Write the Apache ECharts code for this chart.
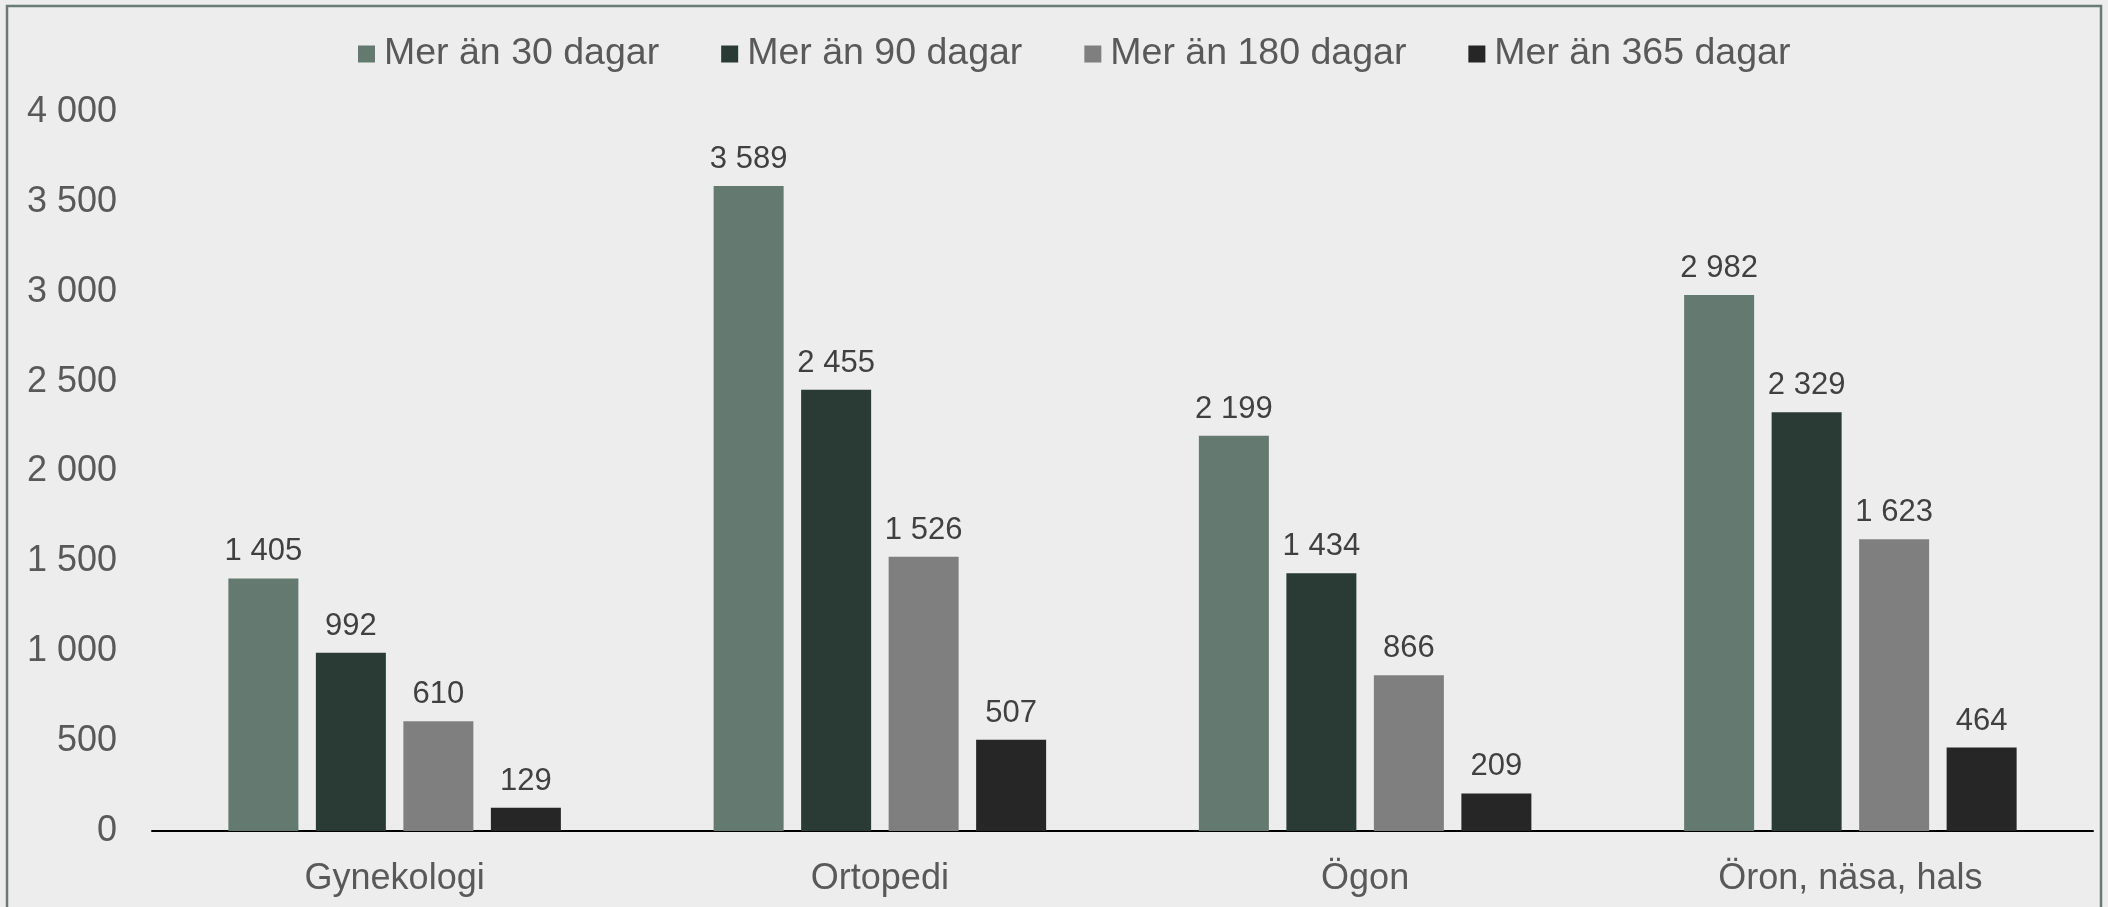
<!DOCTYPE html>
<html>
<head>
<meta charset="utf-8">
<script src="https://cdn.jsdelivr.net/npm/echarts@6/dist/echarts.min.js"></script>
<style>
  html, body { margin: 0; padding: 0; background: #ededed; }
  #main { width: 2108px; height: 907px; }
</style>
</head>
<body>
<div id="main"></div>
<script>
// kategorier och serier
var categories = ['Gynekologi', 'Ortopedi', 'Ögon', 'Öron, näsa, hals'];
var seriesNames = ['Mer än 30 dagar', 'Mer än 90 dagar', 'Mer än 180 dagar', 'Mer än 365 dagar'];
var over30 = [1405, 3589, 2199, 2982];
var over90 = [992, 2455, 1434, 2329];
var over180 = [610, 1526, 866, 1623];
var over365 = [129, 507, 209, 464];
var colors = ['#647a70', '#2a3b35', '#7f7f7f', '#262626'];

//tusentalsavgränsare med mellanslag
function fmt(v) {
	return String(v).replace(/\B(?=(\d{3})+(?!\d))/g, ' ');
}

var chart = echarts.init(document.getElementById('main'));
var allData = [over30, over90, over180, over365];
var series = [];
for (var i = 0; i < allData.length; i++) {
	series.push({
		name: seriesNames[i],
		type: 'bar',
		data: allData[i],
		barWidth: 70,
		barGap: '25%',
		itemStyle: { color: colors[i] },
		label: {
			show: true,
			position: 'top',
			distance: 11,
			color: '#404040',
			fontSize: 31,
			fontFamily: 'Liberation Sans',
			formatter: function(p) { return fmt(p.value); }
		}
	});
}

chart.setOption({
	backgroundColor: '#ededed',
	animation: false,
	textStyle: { fontFamily: 'Liberation Sans' },
	graphic: [{
		type: 'rect',
		shape: { x: 7, y: 6, width: 2094, height: 960 },
		style: { fill: 'none', stroke: '#687c73', lineWidth: 2.5 },
		silent: true
	}],
	legend: {
		top: 30,
		left: 353,
		itemWidth: 17,
		itemHeight: 17,
		itemGap: 62,
		icon: 'rect',
		textStyle: { color: '#595959', fontSize: 37.5, fontFamily: 'Liberation Sans', padding: [0, 0, 0, 4] },
		data: seriesNames
	},
	grid: { left: 152, right: 15, top: 112, bottom: 76 },
	xAxis: {
		type: 'category',
		data: categories,
		axisLine: { lineStyle: { color: '#000', width: 2 } },
		axisTick: { show: false },
		axisLabel: { color: '#595959', fontSize: 36, margin: 30 }
	},
	yAxis: {
		type: 'value',
		min: 0,
		max: 4000,
		interval: 500,
		splitLine: { show: false },
		axisLine: { show: false },
		axisTick: { show: false },
		axisLabel: { color: '#595959', fontSize: 36, margin: 35, formatter: fmt }
	},
	series: series
});
</script>
</body>
</html>
